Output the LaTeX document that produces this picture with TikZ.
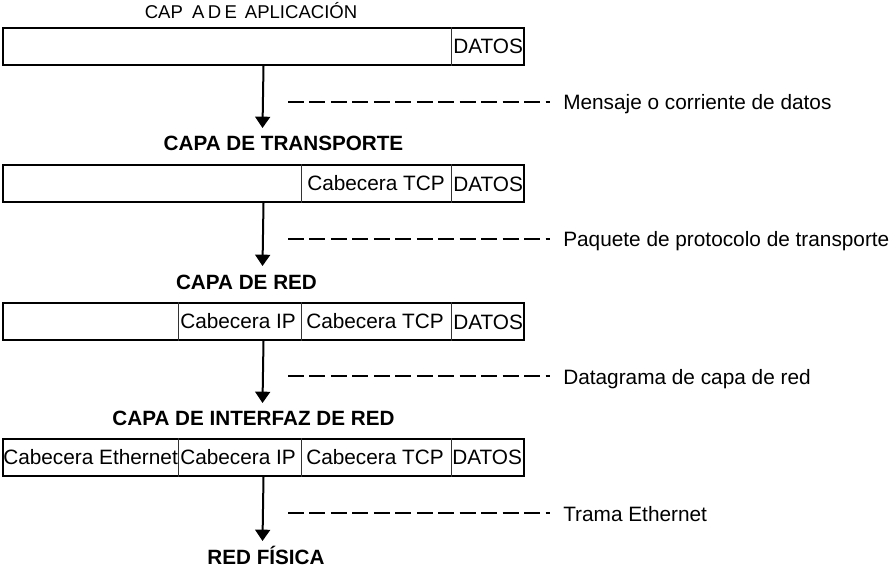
\documentclass[tikz,border=0pt]{standalone}
\usepackage{fontspec}
\setmainfont{Liberation Sans}
\usetikzlibrary{arrows.meta}
\begin{document}
\begin{tikzpicture}[x=0.75pt,y=-0.75pt,
  box/.style={draw,line width=1.5pt,minimum width=390.75pt,minimum height=27.75pt,inner sep=0pt,anchor=north west},
  div/.style={line width=0.75pt,draw=black!80},
  cell/.style={inner sep=0pt,anchor=base west,font=\fontsize{15.6}{18}\selectfont},
  ttl/.style={inner sep=0pt,anchor=base,font=\fontsize{15.5}{18}\selectfont\bfseries},
  lbl/.style={inner sep=0pt,anchor=base west,font=\fontsize{15.6}{18}\selectfont},
  flow/.style={line width=1.5pt,-{Triangle[width=11.25pt,length=8.5pt]}},
  leader/.style={line width=1.3pt,dash pattern=on 12pt off 4.1pt}]
\useasboundingbox (0,0) rectangle (890,569);
\coordinate (xI) at (178,0);
\coordinate (xT) at (301,0);
\coordinate (xD) at (451,0);
\coordinate (ds) at (288,0);
\coordinate (de) at (550,0);

% titles
\node[inner sep=0pt,anchor=base,font=\fontsize{13.9}{16}\selectfont] (t1) at (251,18)
  {CAP\hspace{7pt}A\hspace{2.5pt}D\hspace{2.5pt}E\hspace{6pt}APLICACIÓN};
\node[ttl] (t2) at (283.5,150) {CAPA DE TRANSPORTE};
\node[ttl] (t3) at (246.5,289) {CAPA DE RED};
\node[ttl] (t4) at (253.5,425) {CAPA DE INTERFAZ DE RED};
\node[ttl] (t5) at (266,564) {RED FÍSICA};

% boxes
\node[box] (b1) at (2,27) {};
\node[box] (b2) at (2,164) {};
\node[box] (b3) at (2,302) {};
\node[box] (b4) at (2,438) {};

% dividers
\draw[div] (b1.north -| xD) -- (b1.south -| xD);
\draw[div] (b2.north -| xD) -- (b2.south -| xD);
\draw[div] (b2.north -| xT) -- (b2.south -| xT);
\draw[div] (b3.north -| xD) -- (b3.south -| xD);
\draw[div] (b3.north -| xT) -- (b3.south -| xT);
\draw[div] (b3.north -| xI) -- (b3.south -| xI);
\draw[div] (b4.north -| xD) -- (b4.south -| xD);
\draw[div] (b4.north -| xT) -- (b4.south -| xT);
\draw[div] (b4.north -| xI) -- (b4.south -| xI);

% cell texts
\node[cell] (d1) at (453,53.5) {DATOS};
\node[cell] (c2) at (307,190.5) {Cabecera TCP};
\node[cell] (d2) at (453,191.5) {DATOS};
\node[cell] (i3) at (180,328) {Cabecera IP};
\node[cell] (c3) at (306,328) {Cabecera TCP};
\node[cell] (d3) at (453,329) {DATOS};
\node[cell] (e4) at (3,464.5) {Cabecera Ethernet};
\node[cell] (i4) at (180,464.5) {Cabecera IP};
\node[cell] (c4) at (306,464.5) {Cabecera TCP};
\node[cell] (d4) at (452,464.5) {DATOS};

% arrows
\coordinate (a1) at (262.5,128);
\coordinate (a2) at (262.5,266);
\coordinate (a3) at (262.5,403);
\coordinate (a4) at (262.5,541);
\draw[flow] (b1.south) -- (a1);
\draw[flow] (b2.south) -- (a2);
\draw[flow] (b3.south) -- (a3);
\draw[flow] (b4.south) -- (a4);

% leaders and labels
\foreach \yy in {102,239,376,513}{
  \draw[leader] (ds |- 0,\yy) -- (de |- 0,\yy);
}
\node[lbl] (l1) at (563,109) {Mensaje o corriente de datos};
\node[lbl] (l2) at (563,246) {Paquete de protocolo de transporte};
\node[lbl] (l3) at (563,384) {Datagrama de capa de red};
\node[lbl] (l4) at (563,521) {Trama Ethernet};
\end{tikzpicture}
\end{document}
